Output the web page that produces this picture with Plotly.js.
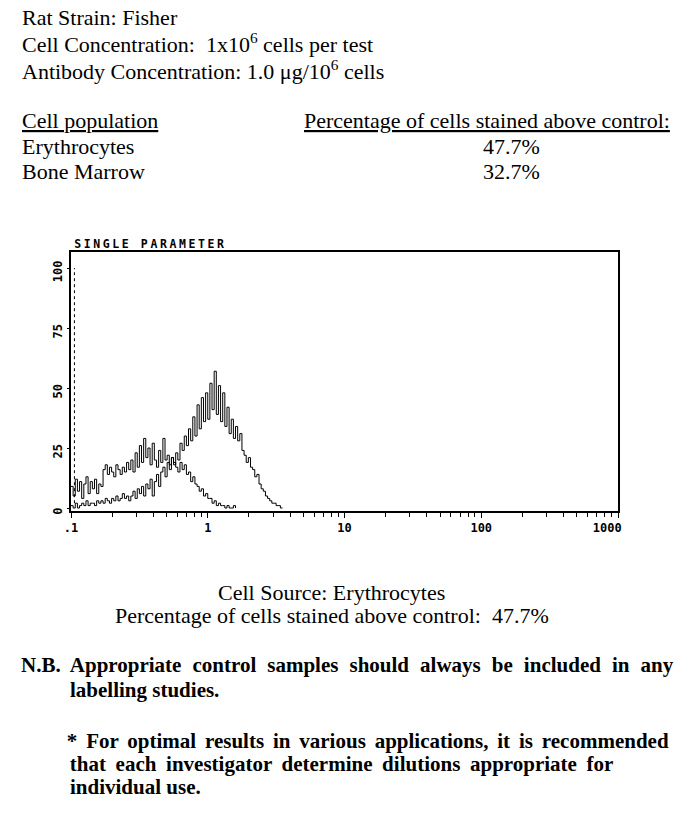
<!DOCTYPE html>
<html><head><meta charset="utf-8">
<script src="https://cdn.plot.ly/plotly-3.0.1.min.js"></script>
<style>
html,body{margin:0;padding:0;background:#fff;}
#chart{width:700px;height:818px;}
.annotation[data-index="0"] text{letter-spacing:2.6px;}
.annotation[data-index="13"] text{word-spacing:5.8px;}
.annotation[data-index="15"] text{word-spacing:3.6px;}
.annotation[data-index="16"] text{word-spacing:4.4px;}
</style></head><body><div id="chart"></div>
<script>
// Histogram counts per channel (256 log channels over 4 decades, 0.1 .. 1000; 64 channels per decade)
const controlCounts = [
  9, 5, 12, 7, 11, 4, 10, 13, 6, 11, 8, 12, 6, 10,
  9, 16, 18, 14, 17, 15, 13, 18, 16, 14, 17, 15, 19, 16,
  20, 15, 23, 17, 26, 19, 29, 21,
  25, 18, 27, 20, 17, 24, 19, 29,
  20, 22, 18, 21, 19,
  17, 15, 19, 16, 18, 14,
  15, 11, 13, 10,
  9, 7, 8, 5, 6, 4,
  4, 2, 3, 1, 2, 1,
  1, 0, 1, 0, 0, 1, 0
];
const stainedCounts = [
  1, 0, 2, 0, 1, 2, 1, 3, 1, 2, 2, 1, 3, 2,
  3, 2, 4, 3, 2, 4, 3, 5, 3, 4, 6, 4, 5, 3,
  5, 7, 4, 8, 6, 9, 5, 10,
  8, 12, 5, 11, 14, 9, 15,
  17, 13, 19, 16, 21, 18,
  23, 20, 27, 24, 30, 26, 33,
  28, 38, 30, 43, 33, 46, 36,
  48, 37, 52, 41, 57,
  39, 51, 36, 48, 34,
  42, 31, 37, 29,
  34, 28, 31, 24,
  22, 19, 21, 17,
  16, 13, 14, 10, 8,
  7, 5, 4, 3, 2,
  2, 1, 1, 0, 0
];
const channelsPerDecade = 64;
const decadeLabels = ['.1', '1', '10', '100', '1000\u00a0\u00a0\u00a0'];
const yTickValues = [0, 25, 50, 75, 100];
const yTickLabels = ['0', '25', '50', '75', '100'];

const headerLines = [
  'Rat Strain: Fisher',
  'Cell Concentration:\u00a0 1x10<sup>6</sup> cells per test',
  'Antibody Concentration: 1.0 \u03bcg/10<sup>6</sup> cells'
];
const populations = ['Erythrocytes', 'Bone Marrow'];
const percentages = ['47.7%', '32.7%'];

// tick positions on the channel axis
const majorTicks = decadeLabels.map((_, i) => i * channelsPerDecade);
const minorTicks = [];
for (let d = 0; d < 4; d++) for (let k = 2; k <= 9; k++) minorTicks.push((d + Math.log10(k)) * channelsPerDecade);

// plot area in pixels
const L = 71, T = 252, W = 547, H = 259;
const px = x => (x - L) / W;
const py = y => (T + H - y) / H;

const serif = {family: 'Liberation Serif, Times New Roman, serif', size: 22, color: '#000'};
const serifB = {family: 'Liberation Serif, Times New Roman, serif', size: 21, color: '#000', weight: 'bold'};
const mono = {family: 'DejaVu Sans Mono, monospace', size: 12, color: '#000', weight: 'bold'};
const monoTitle = {family: 'DejaVu Sans Mono, monospace', size: 11.5, color: '#000', weight: 'bold'};

function ann(text, x, y, font, anchor) {
  return {text: text, x: px(x), y: py(y), xref: 'paper', yref: 'paper',
    xanchor: anchor || 'left', yanchor: 'middle', showarrow: false, font: font};
}

const annotations = [
  ann('SINGLE PARAMETER', 150, 243.5, monoTitle, 'center'),
  ann(headerLines[0], 20, 17, serif),
  ann(headerLines[1], 20, 43, serif),
  ann(headerLines[2], 20, 70, serif),
  ann('<u>Cell population</u>', 20, 121, serif),
  ann(populations[0], 20, 146, serif),
  ann(populations[1], 20, 171, serif),
  ann('<u>Percentage of cells stained above control:</u>', 302, 121, serif),
  ann(percentages[0], 511, 146, serif, 'center'),
  ann(percentages[1], 511, 171, serif, 'center'),
  ann('Cell Source: ' + populations[0], 331, 592, serif, 'center'),
  ann('Percentage of cells stained above control:\u00a0 ' + percentages[0], 332, 615, serif, 'center'),
  ann('<b>N.B.</b>', 19, 665, serifB),
  ann('<b>Appropriate control samples should always be included in any</b>', 371.5, 665, serifB, 'center'),
  ann('<b>labelling studies.</b>', 68, 690, serifB),
  ann('<b>* For optimal results in various applications, it is recommended</b>', 368, 741, serifB, 'center'),
  ann('<b>that each investigator determine dilutions appropriate for</b>', 341.5, 764, serifB, 'center'),
  ann('<b>individual use.</b>', 68, 787, serifB)
];

const lineStyle = {color: '#000', width: 1, shape: 'hv'};
const traces = [
  {type: 'scatter', mode: 'lines', x0: 0, dx: 1, y: controlCounts, line: lineStyle, hoverinfo: 'skip', name: 'Control'},
  {type: 'scatter', mode: 'lines', x0: 0, dx: 1, y: stainedCounts, line: lineStyle, hoverinfo: 'skip', name: 'Stained'}
];

const layout = {
  width: 700, height: 818,
  margin: {l: L, r: 700 - L - W, t: T, b: 818 - T - H, pad: 0},
  paper_bgcolor: '#fff', plot_bgcolor: '#fff',
  showlegend: false,
  xaxis: {
    type: 'linear', range: [0, 4 * channelsPerDecade], showgrid: false, zeroline: false,
    showline: true, mirror: true, linewidth: 2, linecolor: '#000',
    tickmode: 'array', tickvals: majorTicks, ticktext: decadeLabels,
    ticks: 'outside', ticklen: 5, tickwidth: 1, tickcolor: '#000',
    minor: {tickmode: 'array', tickvals: minorTicks, ticks: 'outside', ticklen: 4, tickwidth: 1, tickcolor: '#000', showgrid: false},
    tickfont: mono, fixedrange: true
  },
  yaxis: {
    range: [-1.25, 106.7], showgrid: false, zeroline: false,
    showline: true, mirror: true, linewidth: 2, linecolor: '#000',
    tickmode: 'array', tickvals: yTickValues, ticktext: yTickLabels,
    ticks: 'outside', ticklen: 2, tickcolor: '#000',
    tickangle: -90, tickfont: mono, ticklabelshift: 5, fixedrange: true
  },
  shapes: [
    {type: 'line', xref: 'x', yref: 'y', x0: 1.6, x1: 1.6, y0: 2, y1: 100,
     line: {color: '#000', width: 1, dash: 'dot'}}
  ],
  annotations: annotations
};

Plotly.newPlot('chart', traces, layout, {staticPlot: true, displayModeBar: false});
</script></body></html>
